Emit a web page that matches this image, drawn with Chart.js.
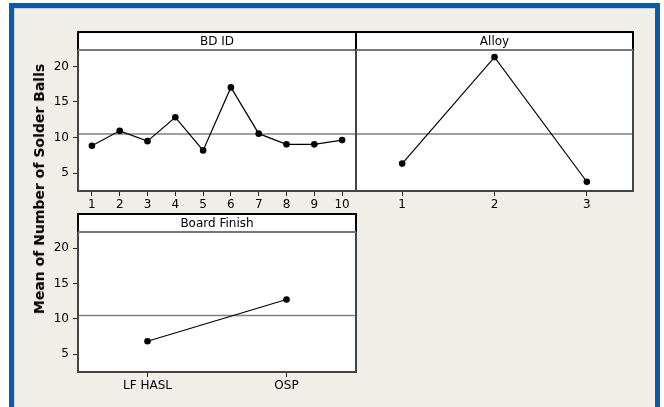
<!DOCTYPE html>
<html><head><meta charset="utf-8">
<script src="https://cdn.jsdelivr.net/npm/chart.js@4"></script>
<style>
html,body{margin:0;padding:0;background:#fff;}
#wrap{position:relative;width:664px;height:407px;overflow:hidden;background:#fff;}
#frame{position:absolute;left:9px;top:3px;width:651px;height:410px;box-sizing:border-box;border:5px solid #0D5AA7;background:#F1EEE8;box-shadow:inset 1px 1px 0 #c9d1da;}
canvas{position:absolute;left:0;top:0;}
#ylab{position:absolute;left:39px;top:189px;transform:translate(-50%,-50%) rotate(-90deg);font:bold 14px "DejaVu Sans";white-space:nowrap;color:#000;}
</style>
</head><body>
<div id="wrap">
  <div id="frame"></div>
  <canvas id="c1" width="664" height="407"></canvas>
  <canvas id="c2" width="664" height="407"></canvas>
  <canvas id="c3" width="664" height="407"></canvas>
  <div id="ylab">Mean of Number of Solder Balls</div>
</div>
<script>
// ---- data ----
const bdIdLabels = ["1","2","3","4","5","6","7","8","9","10"];
const bdIdMeans  = [8.85, 10.95, 9.5, 12.85, 8.2, 17.05, 10.55, 9.05, 9.05, 9.65];
const alloyLabels = ["1","2","3"];
const alloyMeans  = [6.35, 21.3, 3.8];
const finishLabels = ["LF HASL","OSP"];
const finishMeans  = [6.85, 12.75];
const yTicks = [5, 10, 15, 20];
const grandMean = 10.5;
const yMin = 2.5, yMax = 22.3;

const FONT = "DejaVu Sans";

const panelPlugin = {
  id: 'panel',
  beforeDraw(chart, args, opts) {
    const {ctx, chartArea: a} = chart;
    ctx.save();
    ctx.fillStyle = '#fff';
    ctx.fillRect(a.left, a.top, a.width, a.height);
    ctx.fillRect(a.left, a.top - 18, a.width, 18);
    ctx.restore();
  },
  beforeDatasetsDraw(chart) {
    const {ctx, chartArea: a} = chart;
    const y = chart.scales.y.getPixelForValue(grandMean);
    ctx.save();
    ctx.strokeStyle = '#808080';
    ctx.lineWidth = 1.5;
    ctx.beginPath(); ctx.moveTo(a.left, y); ctx.lineTo(a.right, y); ctx.stroke();
    ctx.restore();
  },
  afterDraw(chart, args, opts) {
    const {ctx, chartArea: a} = chart;
    ctx.save();
    ctx.strokeStyle = '#444';
    ctx.lineWidth = 2;
    ctx.strokeRect(a.left, a.top, a.width, a.height);
    const ht = a.top - 18;
    ctx.strokeStyle = '#000';
    ctx.beginPath();
    ctx.moveTo(a.left, a.top); ctx.lineTo(a.left, ht); ctx.lineTo(a.right, ht); ctx.lineTo(a.right, a.top);
    ctx.stroke();
    ctx.strokeStyle = '#777';
    ctx.beginPath(); ctx.moveTo(a.left, a.top); ctx.lineTo(a.right, a.top); ctx.stroke();
    ctx.fillStyle = '#000';
    ctx.font = '12px "' + FONT + '"';
    ctx.textAlign = 'center';
    ctx.textBaseline = 'middle';
    ctx.fillText(opts.title, (a.left + a.right) / 2, ht + 9.5);
    ctx.restore();
  }
};

function makePanel(id, labels, values, title, area, showY) {
  const yW = showY ? 30 : 0;
  return new Chart(document.getElementById(id), {
    type: 'line',
    data: {
      labels: labels,
      datasets: [{
        data: values,
        borderColor: '#000',
        borderWidth: 1.2,
        pointRadius: 3.3,
        pointBackgroundColor: '#000',
        pointBorderWidth: 0,
        tension: 0,
        fill: false
      }]
    },
    options: {
      responsive: false,
      animation: false,
      events: [],
      layout: {
        padding: {
          left: area.left - yW,
          top: area.top,
          right: 664 - area.right,
          bottom: 407 - area.bottom - 25
        }
      },
      plugins: {
        legend: {display: false},
        tooltip: {enabled: false},
        panel: {title: title}
      },
      scales: {
        x: {
          type: 'category',
          offset: true,
          grid: {display: true, drawOnChartArea: false, drawTicks: true, tickLength: 5, tickColor: '#222', lineWidth: 1},
          border: {display: false},
          ticks: {color: '#000', font: {family: FONT, size: 12}, padding: 2, maxRotation: 0, autoSkip: false},
          afterFit(s) { s.height = 25; }
        },
        y: {
          type: 'linear',
          display: showY,
          min: yMin, max: yMax,
          afterBuildTicks(s) { s.ticks = yTicks.map(v => ({value: v})); },
          grid: {display: true, drawOnChartArea: false, drawTicks: true, tickLength: 5, tickColor: '#222', lineWidth: 1},
          border: {display: false},
          ticks: {color: '#000', font: {family: FONT, size: 12}, padding: 4},
          afterFit(s) { if (showY) s.width = 30; }
        }
      }
    },
    plugins: [panelPlugin]
  });
}

makePanel('c1', bdIdLabels, bdIdMeans, 'BD ID', {left: 78, top: 50, right: 356, bottom: 191}, true);
makePanel('c2', alloyLabels, alloyMeans, 'Alloy', {left: 356, top: 50, right: 633, bottom: 191}, false);
makePanel('c3', finishLabels, finishMeans, 'Board Finish', {left: 78, top: 232, right: 356, bottom: 372}, true);
</script>
</body></html>
